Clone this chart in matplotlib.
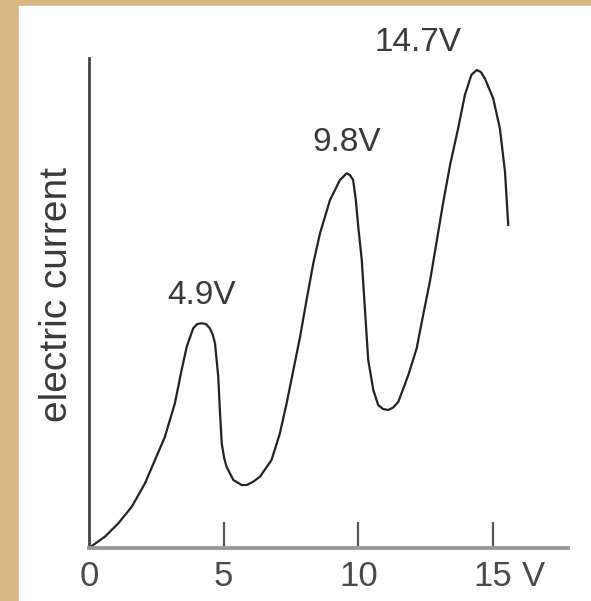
import numpy as np
import matplotlib.pyplot as plt
from matplotlib.patches import Rectangle

plt.rcParams['font.family'] = ['Liberation Sans', 'DejaVu Sans']

# curve: voltage (V) and current (arbitrary units)
voltage = [0.00, 0.59, 1.09, 1.59, 2.08, 2.45, 2.82, 3.19, 3.44, 3.63, 3.87, 4.02,
           4.18, 4.34, 4.49, 4.60, 4.68, 4.80, 4.86, 4.93, 5.02, 5.11, 5.36, 5.67,
           5.86, 6.10, 6.35, 6.78, 7.09, 7.34, 7.59, 7.84, 8.08, 8.33, 8.58, 8.95,
           9.32, 9.57, 9.69, 9.81, 9.91, 10.00, 10.13, 10.25, 10.37, 10.56, 10.74,
           10.92, 11.11, 11.30, 11.49, 11.86, 12.17, 12.41, 12.66, 12.91, 13.16,
           13.41, 13.71, 13.96, 14.20, 14.40, 14.55, 14.70, 15.01, 15.26, 15.45, 15.57]
current = [0.00, 1.13, 2.47, 4.13, 6.47, 8.80, 11.13, 14.47, 17.80, 20.13, 21.97, 22.40,
           22.47, 22.40, 21.97, 21.30, 20.47, 17.13, 13.80, 10.47, 9.00, 8.13, 6.80, 6.30,
           6.30, 6.63, 7.13, 8.80, 11.47, 14.47, 17.80, 21.13, 24.80, 28.47, 31.47, 34.80,
           36.80, 37.47, 37.30, 36.80, 34.80, 32.13, 28.80, 23.80, 18.80, 15.80, 14.30,
           13.90, 13.80, 14.05, 14.63, 17.30, 19.97, 23.30, 26.63, 30.63, 34.63,
           38.30, 41.97, 45.30, 47.30, 47.80, 47.60, 46.97, 44.97, 41.97, 37.63, 32.30]

tick_values = [0, 5, 10, 15]
tick_labels = ['0', '5', '10', '15']
peak_labels = ['4.9V', '9.8V', '14.7V']

fig = plt.figure(figsize=(5.91, 6.01), dpi=100)
fig.patch.set_facecolor('#d8b681')
fig.add_artist(Rectangle((19 / 591, 0), 1 - 19 / 591, 1 - 6 / 601,
                         transform=fig.transFigure, color='white', zorder=-1))

ax = fig.add_axes([89 / 591, 53 / 601, 479 / 591, 490 / 601])
ax.set_facecolor('none')
ax.plot(voltage, current, color='#222222', lw=1.6, solid_joinstyle='round')
ax.set_xlim(0, 17.79)
ax.set_ylim(0, 49)

for s in ['top', 'right']:
    ax.spines[s].set_visible(False)
ax.spines['left'].set_color('#444444')
ax.spines['left'].set_linewidth(2.0)
ax.spines['bottom'].set_color('#9a9a9a')
ax.spines['bottom'].set_linewidth(2.8)

ax.set_yticks([])
ax.set_xticks(tick_values)
ax.set_xticklabels(tick_labels, fontsize=25, color='#4a4a4a')
ax.tick_params(axis='x', direction='in', length=19, width=1.6, color='#555555', pad=9)
ax.xaxis.get_major_ticks()[0].tick1line.set_visible(False)

# unit next to the last tick label, same line as the tick labels
ax.annotate('V', (16.5, 0), xycoords=('data', 'axes fraction'), xytext=(0, -9),
            textcoords='offset points', ha='center', va='top',
            fontsize=25, color='#4a4a4a')

fig.text(57 / 591, 1 - 294 / 601, 'electric current', rotation=90, ha='center',
         va='center', fontsize=28, color='#3a3a3a')

# label the three peaks
cur = np.array(current)
peaks = [i for i in range(1, len(cur) - 1) if cur[i] > cur[i - 1] and cur[i] >= cur[i + 1]]
offsets = [(0, 20), (0, 22), (-42, 20)]
for idx, lab, off in zip(peaks, peak_labels, offsets):
    ax.annotate(lab, (voltage[idx], current[idx]), xytext=off, textcoords='offset points',
                ha='center', va='center', fontsize=24, color='#3a3a3a',
                annotation_clip=False)

fig.savefig('out.png', dpi=100)
